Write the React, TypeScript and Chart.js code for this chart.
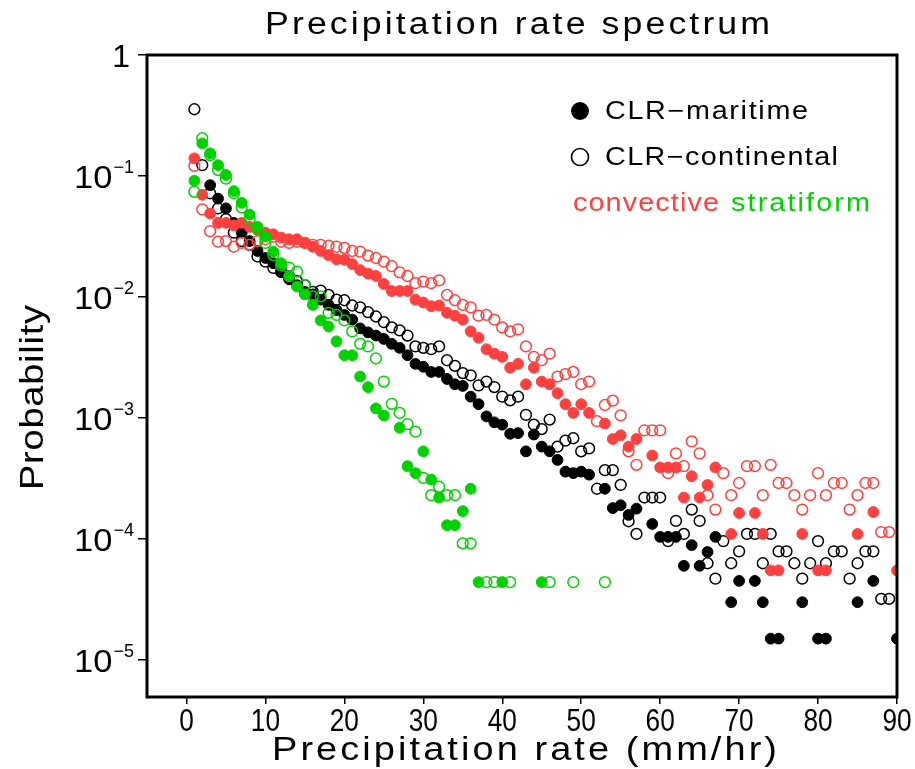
import React, { useEffect, useRef } from 'react';
import { Chart, registerables } from 'chart.js';

Chart.register(...registerables);

// Precipitation-rate bins (mm/hr)
const rates = [
  1, 2, 3, 4, 5, 6, 7, 8, 9, 10, 11, 12, 13, 14, 15, 16, 17, 18, 19, 20,
  21, 22, 23, 24, 25, 26, 27, 28, 29, 30, 31, 32, 33, 34, 35, 36, 37, 38, 39, 40,
  41, 42, 43, 44, 45, 46, 47, 48, 49, 50, 51, 52, 53, 54, 55, 56, 57, 58, 59, 60,
  61, 62, 63, 64, 65, 66, 67, 68, 69, 70, 71, 72, 73, 74, 75, 76, 77, 78, 79, 80,
  81, 82, 83, 84, 85, 86, 87, 88, 89, 90,
];

const xTicks = [0, 10, 20, 30, 40, 50, 60, 70, 80, 90];
const yTicks = [1e-5, 1e-4, 1e-3, 1e-2, 1e-1, 1];
const yTickExps = ['−5', '−4', '−3', '−2', '−1', ''];

// CLR-maritime, all (black filled)
const maritimeAll = [
  null, null, 0.084, 0.065, 0.054, 0.041, 0.034, 0.029, 0.024, 0.021,
  0.019, 0.016, 0.014, 0.0125, 0.011, 0.0105, 0.0095, 0.0086, 0.0078, 0.0071,
  0.0065, 0.0055, 0.0051, 0.0048, 0.0045, 0.0041, 0.0038, 0.0033, 0.0028, 0.00265,
  0.0024, 0.0024, 0.0021, 0.0019, 0.00184, 0.0015, 0.0013, 0.00103, 0.00092, 0.00088,
  0.00074, 0.00075, 0.00053, 0.00073, 0.00058, 0.00053, 0.00045, 0.00036, 0.00035, 0.00036,
  0.00034, null, 0.00026, 0.00018, 0.00019, 0.000158, 0.000178, null, 0.000133, 0.000104,
  0.000104, 0.000104, 0.00006, 0.000089, 0.00006, 0.000078, 0.000104, null, 0.00003, 0.000045,
  null, 0.000045, 0.00003, 0.000015, 0.000015, null, null, 0.00003, null, 0.000015,
  0.000015, null, null, null, 0.00003, null, 0.000045, null, null, 0.000015,
];

// CLR-continental, all (black open)
const continentalAll = [
  0.356, 0.123, 0.072, 0.054, 0.044, 0.034, 0.029, 0.027, 0.0216, 0.0196,
  0.0174, 0.0162, 0.0148, 0.0135, 0.0125, 0.011, 0.0113, 0.0104, 0.0095, 0.0094,
  0.0085, 0.0082, 0.0075, 0.0069, 0.0062, 0.0056, 0.0053, 0.0048, 0.0039, 0.0038,
  0.0037, 0.0039, 0.003, 0.0027, 0.00235, 0.00225, 0.00186, 0.002, 0.0018, 0.0015,
  0.0014, 0.0015, 0.00106, 0.00088, 0.00081, 0.00097, 0.00058, 0.00065, 0.00068, 0.00053,
  0.00056, 0.00026, 0.00037, 0.00037, 0.00028, 0.00014, 0.00011, 0.00022, 0.00022, 0.00022,
  0.000096, 0.000141, 0.00011, 0.000175, 0.000141, 0.000063, 0.000047, 0.000096, 0.000063, 0.000079,
  0.00011, 0.00011, 0.000063, 0.00011, 0.000079, 0.000079, 0.000063, 0.000047, 0.000063, 0.000096,
  0.000063, 0.000079, 0.000079, 0.000047, 0.000063, 0.000079, 0.000079, 0.000032, 0.000032, null,
];

// maritime convective (red filled)
const maritimeConv = [
  0.14, 0.07, 0.049, 0.041, 0.041, 0.039, 0.041, 0.038, 0.036, 0.034,
  0.033, 0.031, 0.03, 0.03, 0.028, 0.026, 0.024, 0.0222, 0.0205, 0.0203,
  0.0187, 0.0167, 0.0156, 0.0149, 0.0128, 0.0112, 0.0112, 0.0112, 0.0095, 0.009,
  0.0084, 0.0085, 0.0074, 0.007, 0.0065, 0.0052, 0.0046, 0.0037, 0.0034, 0.0032,
  0.0026, 0.0028, 0.0019, 0.0026, 0.002, 0.0019, 0.0016, 0.0013, 0.0011, 0.0013,
  0.0011, null, 0.0009, 0.00067, 0.00072, 0.00058, 0.00067, null, 0.00049, 0.00039,
  0.00039, 0.00039, 0.00022, 0.00033, 0.00022, 0.00028, 0.00039, null, 0.00011, 0.000164,
  null, 0.000164, 0.00011, 0.000055, 0.000055, null, null, 0.00011, null, 0.000055,
  0.000055, null, null, null, 0.00011, null, 0.000167, null, null, 0.000055,
];

// continental convective (red open)
const continentalConv = [
  0.121, 0.053, 0.035, 0.0286, 0.029, 0.026, 0.028, 0.027, 0.029, 0.03,
  0.0315, 0.0286, 0.028, 0.0286, 0.028, 0.027, 0.027, 0.0265, 0.026, 0.0255,
  0.024, 0.0237, 0.022, 0.021, 0.0196, 0.018, 0.016, 0.0149, 0.013, 0.0134,
  0.013, 0.0137, 0.0104, 0.0094, 0.0086, 0.0082, 0.007, 0.0071, 0.0065, 0.0056,
  0.0052, 0.0054, 0.0039, 0.0032, 0.003, 0.0034, 0.0022, 0.0023, 0.0024, 0.0019,
  0.002, 0.00094, 0.00128, 0.00139, 0.00105, 0.00053, 0.00041, 0.00079, 0.00079, 0.00079,
  0.00035, 0.00051, 0.0004, 0.00064, 0.00051, 0.00023, 0.000175, 0.00035, 0.00023, 0.00029,
  0.0004, 0.0004, 0.00023, 0.00041, 0.00029, 0.00029, 0.00023, 0.000175, 0.00023, 0.00035,
  0.00023, 0.00029, 0.00029, 0.000175, 0.00023, 0.00029, 0.00029, 0.000114, 0.000114, null,
];

// maritime stratiform (green filled)
const maritimeStrat = [
  0.0915, 0.186, 0.154, 0.123, 0.102, 0.075, 0.06, 0.048, 0.038, 0.0315,
  0.0237, 0.019, 0.0148, 0.0122, 0.0105, 0.0086, 0.0064, 0.0057, 0.0043, 0.0033,
  0.0033, 0.0022, 0.0018, 0.0012, 0.00105, null, 0.00083, 0.0004, 0.00035, 0.00053,
  0.00031, 0.00022, 0.00013, 0.00013, 0.00017, 0.00026, 0.000044, null, null, 0.000044,
  null, null, null, null, 0.000044, null, null, null, null, null,
  null, null, null, null, null, null, null, null, null, null,
  null, null, null, null, null, null, null, null, null, null,
  null, null, null, null, null, null, null, null, null, null,
  null, null, null, null, null, null, null, null, null, null,
];

// continental stratiform (green open)
const continentalStrat = [
  0.074, 0.205, 0.149, 0.112, 0.095, 0.072, 0.055, 0.044, 0.036, 0.028,
  0.0222, 0.0183, 0.0175, 0.0162, 0.0126, 0.0101, 0.0101, 0.0074, 0.0071, 0.0064,
  0.0052, 0.0041, 0.0039, 0.0031, 0.002, 0.00131, 0.0011, 0.00089, 0.00077, 0.00032,
  0.00023, 0.00027, 0.00023, 0.00023, 0.000092, 0.000092, null, 0.000044, 0.000044, null,
  0.000044, null, null, null, null, 0.000044, null, null, 0.000044, null,
  null, null, 0.000044, null, null, null, null, null, null, null,
  null, null, null, null, null, null, null, null, null, null,
  null, null, null, null, null, null, null, null, null, null,
  null, null, null, null, null, null, null, null, null, null,
];

const RED = '#ff4040';
const GREEN = '#00d200';
const BLACK = '#000000';
const FONT = "'Liberation Sans', Arial, sans-serif";

function toPoints(values: (number | null)[]) {
  const pts: { x: number; y: number }[] = [];
  values.forEach((v, i) => {
    if (v !== null) pts.push({ x: rates[i], y: v });
  });
  return pts;
}

// draws text stretched a little horizontally, with extra tracking to reach the target width
function wideText(ctx: CanvasRenderingContext2D, text: string, x: number, y: number, size: number, color: string, width: number, stretch = 1.15) {
  ctx.save();
  ctx.font = `${size}px ${FONT}`;
  ctx.fillStyle = color;
  ctx.textAlign = 'left';
  ctx.textBaseline = 'alphabetic';
  (ctx as any).letterSpacing = '0px';
  const natural = ctx.measureText(text).width * stretch;
  const n = Array.from(text).length;
  const sp = n > 1 ? (width - natural) / (n - 1) / stretch : 0;
  (ctx as any).letterSpacing = `${sp}px`;
  ctx.translate(x, y);
  ctx.scale(stretch, 1);
  ctx.fillText(text, 0, 0);
  ctx.restore();
}

const overlay = {
  id: 'overlay',
  afterDraw(chart: any) {
    const ctx: CanvasRenderingContext2D = chart.ctx;
    const { left, right, top, bottom } = chart.chartArea;
    ctx.save();
    // frame
    ctx.strokeStyle = BLACK;
    ctx.lineWidth = 3;
    ctx.strokeRect(left, top, right - left, bottom - top);

    // y tick labels
    const ys = chart.scales.y;
    yTicks.forEach((v, i) => {
      const py = ys.getPixelForValue(v);
      const exp = yTickExps[i];
      ctx.fillStyle = BLACK;
      ctx.textBaseline = 'alphabetic';
      ctx.textAlign = 'right';
      if (!exp) {
        ctx.font = `32px ${FONT}`;
        ctx.fillText('1', 130, py + 12);
      } else {
        ctx.font = `18px ${FONT}`;
        const ew = ctx.measureText(exp).width;
        ctx.fillText(exp, 134, py - 3);
        ctx.save();
        ctx.translate(134 - ew - 1, py + 12);
        ctx.scale(1.08, 1);
        ctx.font = `32px ${FONT}`;
        ctx.fillText('10', 0, 0);
        ctx.restore();
      }
    });

    // x tick labels
    const xs = chart.scales.x;
    xTicks.forEach((v) => {
      const px = xs.getPixelForValue(v);
      ctx.save();
      ctx.translate(px, 731);
      ctx.scale(0.82, 1);
      ctx.font = `32px ${FONT}`;
      ctx.textAlign = 'center';
      ctx.textBaseline = 'alphabetic';
      ctx.fillStyle = BLACK;
      ctx.fillText(String(v), 0, 0);
      ctx.restore();
    });

    // titles
    wideText(ctx, 'Precipitation rate spectrum', 265, 34, 31, BLACK, 505);
    wideText(ctx, 'Precipitation rate (mm/hr)', 272, 760, 33, BLACK, 505);
    ctx.save();
    ctx.translate(43, 490);
    ctx.rotate(-Math.PI / 2);
    wideText(ctx, 'Probability', 0, 0, 33, BLACK, 185);
    ctx.restore();

    // legend
    ctx.fillStyle = BLACK;
    ctx.beginPath();
    ctx.arc(580, 111, 9, 0, Math.PI * 2);
    ctx.fill();
    ctx.strokeStyle = BLACK;
    ctx.lineWidth = 1.6;
    ctx.beginPath();
    ctx.arc(580, 157, 8.5, 0, Math.PI * 2);
    ctx.stroke();
    wideText(ctx, 'CLR−maritime', 605, 119, 25, BLACK, 203);
    wideText(ctx, 'CLR−continental', 605, 165, 25, BLACK, 233);
    wideText(ctx, 'convective', 573, 211, 25, RED, 146);
    wideText(ctx, 'stratiform', 731, 211, 25, GREEN, 139);
    ctx.restore();
  },
};

export default function App() {
  const ref = useRef<HTMLCanvasElement | null>(null);

  useEffect(() => {
    if (!ref.current) return;
    const filled = (label: string, data: (number | null)[], color: string) => ({
      label,
      data: toPoints(data),
      pointRadius: 5.4,
      pointBackgroundColor: color,
      pointBorderColor: color,
      pointBorderWidth: 1,
      showLine: false,
      clip: 0,
    });
    const open = (label: string, data: (number | null)[], color: string) => ({
      label,
      data: toPoints(data),
      pointRadius: 5.4,
      pointBackgroundColor: 'rgba(0,0,0,0)',
      pointBorderColor: color,
      pointBorderWidth: 1.5,
      showLine: false,
      clip: 0,
    });
    const chart = new Chart(ref.current, {
      type: 'scatter',
      data: {
        datasets: [
          filled('maritime stratiform', maritimeStrat, GREEN),
          open('continental stratiform', continentalStrat, GREEN),
          filled('maritime convective', maritimeConv, RED),
          open('continental convective', continentalConv, RED),
          filled('CLR-maritime', maritimeAll, BLACK),
          open('CLR-continental', continentalAll, BLACK),
        ],
      },
      options: {
        animation: false,
        responsive: false,
        devicePixelRatio: 1,
        events: [],
        layout: { padding: { top: 55, right: 18, bottom: 0, left: 0 } },
        plugins: {
          legend: { display: false },
          title: { display: false },
          tooltip: { enabled: false },
        },
        scales: {
          x: {
            type: 'linear',
            min: -5,
            max: 90,
            afterBuildTicks: (s: any) => {
              s.ticks = xTicks.map((v) => ({ value: v }));
            },
            afterFit: (s: any) => {
              s.height = 72;
            },
            ticks: { display: false },
            border: { display: false },
            grid: {
              display: true,
              drawOnChartArea: false,
              drawTicks: true,
              tickLength: 7,
              color: BLACK,
              lineWidth: 1.5,
            },
          },
          y: {
            type: 'logarithmic',
            min: 4.94e-6,
            max: 1,
            afterBuildTicks: (s: any) => {
              s.ticks = yTicks.map((v) => ({ value: v }));
            },
            afterFit: (s: any) => {
              s.width = 147;
            },
            ticks: { display: false },
            border: { display: false },
            grid: {
              display: true,
              drawOnChartArea: false,
              drawTicks: true,
              tickLength: 9,
              color: BLACK,
              lineWidth: 1.5,
            },
          },
        },
      } as any,
      plugins: [overlay],
    });
    return () => chart.destroy();
  }, []);

  return (
    <div style={{ position: 'fixed', left: 0, top: 0, width: 915, height: 769, background: '#fff' }}>
      <canvas ref={ref} width={915} height={769} style={{ width: 915, height: 769 }} />
    </div>
  );
}
